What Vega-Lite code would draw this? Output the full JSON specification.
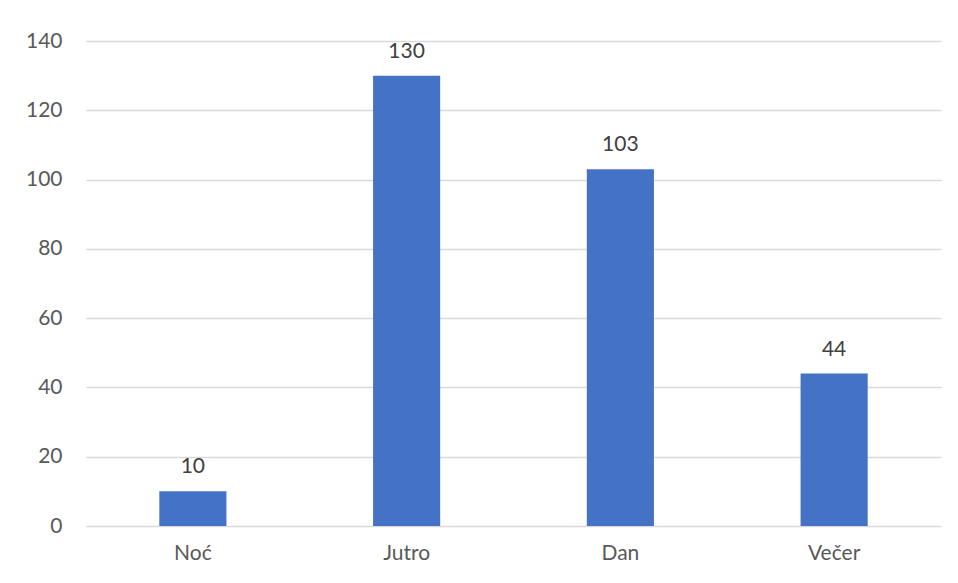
{
  "$schema": "https://vega.github.io/schema/vega-lite/v6.json",
  "autosize": "none",
  "width": 855,
  "height": 485,
  "padding": {"left": 86, "top": 41, "right": 17, "bottom": 57},
  "background": "white",
  "config": {
    "view": {"stroke": null},
    "font": "Lato",
    "axis": {"labelFont": "Lato", "labelFontSize": 21, "labelColor": "#595959"}
  },
  "data": {"values": [
    {"period": "Noć", "count": 10},
    {"period": "Jutro", "count": 130},
    {"period": "Dan", "count": 103},
    {"period": "Večer", "count": 44}
  ]},
  "encoding": {
    "x": {"field": "period", "type": "nominal", "sort": null,
      "scale": {"paddingInner": 0.686, "paddingOuter": 0.343},
      "axis": {"title": null, "domain": false, "ticks": false, "labelAngle": 0, "labelPadding": 16}},
    "y": {"field": "count", "type": "quantitative",
      "scale": {"domain": [0, 140]},
      "axis": {"title": null, "domain": false, "ticks": false, "values": [0,20,40,60,80,100,120,140], "labelPadding": 24, "gridColor": "#d9d9d9", "gridWidth": 1.5}}
  },
  "layer": [
    {"mark": {"type": "bar", "color": "#4472c4"}},
    {"mark": {"type": "text", "baseline": "alphabetic", "dy": -18, "fontSize": 21, "color": "#404040"},
     "encoding": {"text": {"field": "count", "type": "quantitative"}}}
  ]
}
